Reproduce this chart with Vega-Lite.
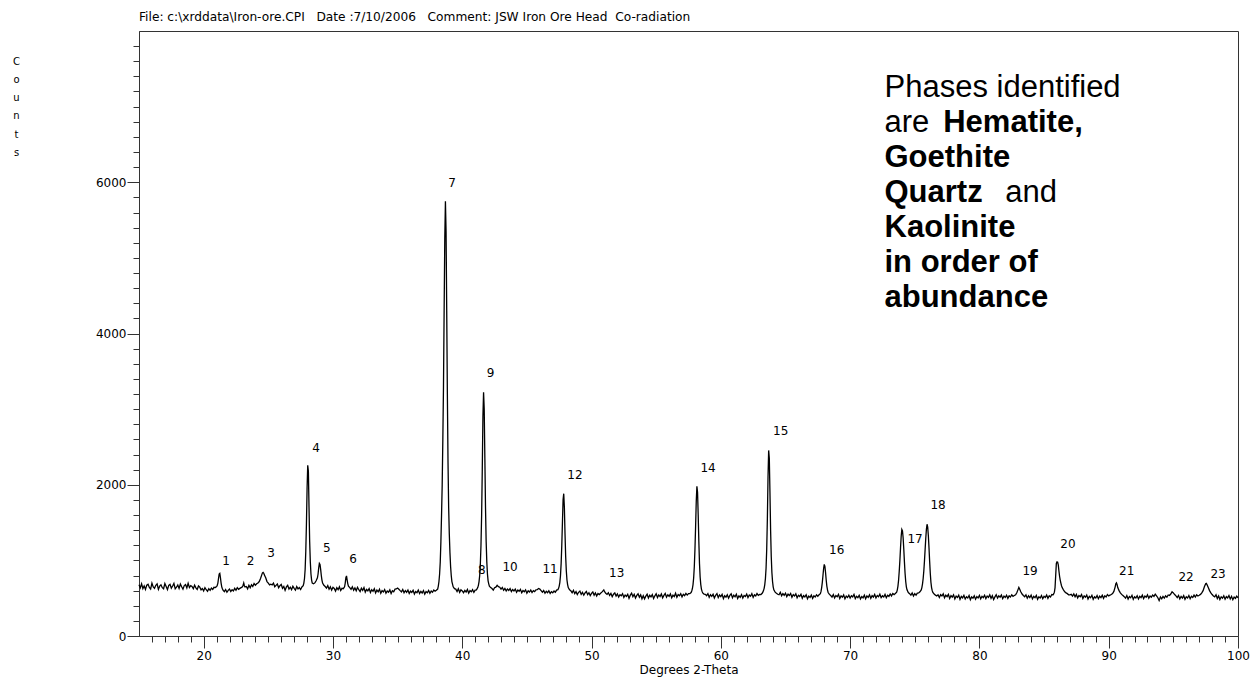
{
"$schema": "https://vega.github.io/schema/vega-lite/v6.json",
"width": 1099, "height": 605,
"autosize": {"type": "none"},
"padding": {"left": 139, "top": 31, "right": 15, "bottom": 43},
"background": "white",
"title": {"text": "File: c:\\xrddata\\Iron-ore.CPI\u00a0\u00a0\u00a0Date :7/10/2006\u00a0\u00a0\u00a0Comment: JSW Iron Ore Head\u00a0\u00a0Co-radiation", "anchor": "start", "frame": "group", "font": "DejaVu Sans", "fontSize": 12.2, "fontWeight": "normal", "color": "black", "offset": 8},
"config": {
  "view": {"stroke": "#333", "strokeWidth": 1},
  "axis": {"domainColor": "#333", "tickColor": "#333", "labelColor": "black", "titleColor": "black", "labelFont": "DejaVu Sans", "titleFont": "DejaVu Sans", "grid": false, "labelOverlap": false, "labelBound": false, "labelFlush": false, "titleFontWeight": "normal"}
},
"datasets": {
"xrd": [
{"t":15.0,"c":679},{"t":15.1,"c":637},{"t":15.2,"c":691},{"t":15.3,"c":627},{"t":15.4,"c":663},{"t":15.5,"c":615},{"t":15.6,"c":673},{"t":15.7,"c":685},{"t":15.8,"c":643},{"t":15.9,"c":621},
{"t":16.0,"c":699},{"t":16.1,"c":649},{"t":16.2,"c":631},{"t":16.3,"c":671},{"t":16.4,"c":689},{"t":16.5,"c":617},{"t":16.6,"c":659},{"t":16.7,"c":677},{"t":16.8,"c":639},{"t":16.9,"c":625},
{"t":17.0,"c":693},{"t":17.1,"c":653},{"t":17.2,"c":613},{"t":17.3,"c":669},{"t":17.4,"c":683},{"t":17.5,"c":633},{"t":17.6,"c":661},{"t":17.7,"c":695},{"t":17.8,"c":623},{"t":17.9,"c":645},
{"t":18.0,"c":675},{"t":18.1,"c":629},{"t":18.2,"c":687},{"t":18.3,"c":651},{"t":18.4,"c":619},{"t":18.5,"c":667},{"t":18.6,"c":681},{"t":18.7,"c":635},{"t":18.8,"c":697},{"t":18.9,"c":641},
{"t":19.0,"c":665},{"t":19.1,"c":654},{"t":19.2,"c":624},{"t":19.3,"c":672},{"t":19.4,"c":636},{"t":19.5,"c":616},{"t":19.6,"c":662},{"t":19.7,"c":646},{"t":19.8,"c":610},{"t":19.9,"c":628},
{"t":20.0,"c":596},{"t":20.1,"c":640},{"t":20.2,"c":612},{"t":20.3,"c":590},{"t":20.4,"c":626},{"t":20.5,"c":604},{"t":20.6,"c":634},{"t":20.7,"c":616},{"t":20.8,"c":644},{"t":20.9,"c":640},
{"t":21.0,"c":655},{"t":21.05,"c":668},{"t":21.1,"c":700},{"t":21.15,"c":760},{"t":21.2,"c":818},{"t":21.25,"c":827},{"t":21.3,"c":770},{"t":21.35,"c":700},{"t":21.4,"c":650},{"t":21.45,"c":625},{"t":21.5,"c":606},
{"t":21.6,"c":586},{"t":21.7,"c":614},{"t":21.8,"c":578},{"t":21.9,"c":604},{"t":22.0,"c":620},{"t":22.1,"c":588},{"t":22.2,"c":612},{"t":22.3,"c":596},{"t":22.4,"c":630},{"t":22.5,"c":606},{"t":22.6,"c":640},{"t":22.7,"c":618},{"t":22.8,"c":630},
{"t":22.9,"c":640},{"t":23.0,"c":650},{"t":23.05,"c":672},{"t":23.1,"c":700},{"t":23.15,"c":665},{"t":23.2,"c":648},{"t":23.3,"c":655},
{"t":23.4,"c":623},{"t":23.5,"c":671},{"t":23.6,"c":639},{"t":23.7,"c":677},{"t":23.8,"c":655},{"t":23.9,"c":693},{"t":24.0,"c":671},{"t":24.1,"c":690},{"t":24.2,"c":702},
{"t":24.3,"c":720},{"t":24.4,"c":760},{"t":24.5,"c":812},{"t":24.55,"c":835},{"t":24.6,"c":842},{"t":24.65,"c":830},{"t":24.7,"c":805},{"t":24.8,"c":770},{"t":24.9,"c":720},{"t":25.0,"c":700},{"t":25.1,"c":676},{"t":25.2,"c":684},
{"t":25.3,"c":675},{"t":25.4,"c":699},{"t":25.5,"c":651},{"t":25.6,"c":669},{"t":25.7,"c":687},{"t":25.8,"c":637},{"t":25.9,"c":665},{"t":26.0,"c":681},{"t":26.1,"c":631},{"t":26.2,"c":655},{"t":26.3,"c":603},{"t":26.4,"c":649},{"t":26.5,"c":671},{"t":26.6,"c":621},{"t":26.7,"c":645},{"t":26.8,"c":613},{"t":26.9,"c":659},{"t":27.0,"c":631},{"t":27.1,"c":607},{"t":27.2,"c":653},{"t":27.3,"c":623},{"t":27.4,"c":641},{"t":27.5,"c":615},{"t":27.6,"c":649},
{"t":27.7,"c":665},{"t":27.75,"c":700},{"t":27.8,"c":760},{"t":27.85,"c":880},{"t":27.9,"c":1120},{"t":27.95,"c":1480},{"t":28.0,"c":1950},{"t":28.05,"c":2256},{"t":28.1,"c":2180},{"t":28.15,"c":1700},{"t":28.2,"c":1250},{"t":28.25,"c":980},{"t":28.3,"c":820},{"t":28.35,"c":740},{"t":28.4,"c":700},{"t":28.5,"c":690},{"t":28.6,"c":702},{"t":28.7,"c":730},
{"t":28.8,"c":770},{"t":28.85,"c":820},{"t":28.9,"c":900},{"t":28.95,"c":959},{"t":29.0,"c":945},{"t":29.05,"c":880},{"t":29.1,"c":800},{"t":29.15,"c":740},{"t":29.2,"c":700},{"t":29.3,"c":670},{"t":29.4,"c":655},
{"t":29.5,"c":634},{"t":29.6,"c":666},{"t":29.7,"c":618},{"t":29.8,"c":650},{"t":29.9,"c":606},{"t":30.0,"c":644},{"t":30.1,"c":628},{"t":30.2,"c":594},{"t":30.3,"c":638},{"t":30.4,"c":612},{"t":30.5,"c":650},{"t":30.6,"c":602},{"t":30.7,"c":630},
{"t":30.8,"c":625},{"t":30.9,"c":650},{"t":30.95,"c":700},{"t":31.0,"c":770},{"t":31.05,"c":795},{"t":31.1,"c":740},{"t":31.15,"c":690},{"t":31.2,"c":660},{"t":31.3,"c":640},
{"t":31.4,"c":618},{"t":31.5,"c":650},{"t":31.6,"c":606},{"t":31.7,"c":636},{"t":31.8,"c":598},{"t":31.9,"c":644},{"t":32.0,"c":612},{"t":32.1,"c":588},{"t":32.2,"c":632},{"t":32.3,"c":604},{"t":32.4,"c":640},{"t":32.5,"c":580},{"t":32.6,"c":616},{"t":32.7,"c":596},{"t":32.8,"c":626},{"t":32.9,"c":576},
{"t":33.0,"c":612},{"t":33.1,"c":590},{"t":33.2,"c":624},{"t":33.3,"c":570},{"t":33.4,"c":608},{"t":33.5,"c":584},{"t":33.6,"c":618},{"t":33.7,"c":564},{"t":33.8,"c":600},{"t":33.9,"c":582},
{"t":34.0,"c":614},{"t":34.1,"c":566},{"t":34.2,"c":596},{"t":34.3,"c":580},{"t":34.4,"c":610},{"t":34.5,"c":562},{"t":34.6,"c":598},{"t":34.7,"c":586},{"t":34.8,"c":620},{"t":34.9,"c":622},
{"t":35.0,"c":634},{"t":35.1,"c":618},{"t":35.2,"c":600},{"t":35.3,"c":583},{"t":35.4,"c":615},{"t":35.5,"c":571},{"t":35.6,"c":601},{"t":35.7,"c":579},{"t":35.8,"c":609},{"t":35.9,"c":563},
{"t":36.0,"c":593},{"t":36.1,"c":577},{"t":36.2,"c":605},{"t":36.3,"c":555},{"t":36.4,"c":589},{"t":36.5,"c":573},{"t":36.6,"c":607},{"t":36.7,"c":561},{"t":36.8,"c":591},{"t":36.9,"c":569},
{"t":37.0,"c":601},{"t":37.1,"c":553},{"t":37.2,"c":587},{"t":37.3,"c":571},{"t":37.4,"c":603},{"t":37.5,"c":565},{"t":37.6,"c":595},{"t":37.7,"c":579},{"t":37.8,"c":609},{"t":37.9,"c":593},
{"t":38.0,"c":605},{"t":38.1,"c":620},{"t":38.15,"c":660},{"t":38.2,"c":720},{"t":38.25,"c":820},{"t":38.3,"c":980},{"t":38.35,"c":1250},{"t":38.4,"c":1600},{"t":38.45,"c":2000},{"t":38.5,"c":2600},{"t":38.55,"c":3300},{"t":38.6,"c":4300},{"t":38.65,"c":5250},{"t":38.7,"c":5750},{"t":38.75,"c":5350},{"t":38.8,"c":4300},{"t":38.85,"c":3200},{"t":38.9,"c":2300},{"t":38.95,"c":1700},{"t":39.0,"c":1350},{"t":39.05,"c":1100},{"t":39.1,"c":920},{"t":39.15,"c":800},{"t":39.2,"c":720},{"t":39.3,"c":650},{"t":39.4,"c":625},
{"t":39.5,"c":620},{"t":39.6,"c":588},{"t":39.7,"c":626},{"t":39.8,"c":578},{"t":39.9,"c":610},{"t":40.0,"c":596},{"t":40.1,"c":572},{"t":40.2,"c":604},{"t":40.3,"c":582},{"t":40.4,"c":616},{"t":40.5,"c":566},{"t":40.6,"c":600},{"t":40.7,"c":584},{"t":40.8,"c":612},{"t":40.9,"c":576},{"t":41.0,"c":606},{"t":41.1,"c":610},{"t":41.2,"c":640},
{"t":41.25,"c":670},{"t":41.3,"c":720},{"t":41.35,"c":800},{"t":41.4,"c":950},{"t":41.45,"c":1200},{"t":41.5,"c":1600},{"t":41.55,"c":2200},{"t":41.6,"c":2900},{"t":41.65,"c":3223},{"t":41.7,"c":3000},{"t":41.75,"c":2350},{"t":41.8,"c":1700},{"t":41.85,"c":1250},{"t":41.9,"c":980},{"t":41.95,"c":820},{"t":42.0,"c":730},{"t":42.05,"c":690},{"t":42.1,"c":660},{"t":42.2,"c":640},
{"t":42.3,"c":628},{"t":42.4,"c":606},{"t":42.5,"c":638},{"t":42.6,"c":645},{"t":42.7,"c":670},{"t":42.8,"c":652},{"t":42.9,"c":645},{"t":43.0,"c":620},{"t":43.1,"c":642},{"t":43.2,"c":605},{"t":43.3,"c":628},{"t":43.4,"c":596},{"t":43.5,"c":622},
{"t":43.6,"c":603},{"t":43.7,"c":627},{"t":43.8,"c":587},{"t":43.9,"c":615},{"t":44.0,"c":595},{"t":44.1,"c":621},{"t":44.2,"c":579},{"t":44.3,"c":607},{"t":44.4,"c":591},{"t":44.5,"c":617},{"t":44.6,"c":573},{"t":44.7,"c":601},{"t":44.8,"c":585},{"t":44.9,"c":611},
{"t":45.0,"c":567},{"t":45.1,"c":597},{"t":45.2,"c":581},{"t":45.3,"c":607},{"t":45.4,"c":575},{"t":45.5,"c":599},{"t":45.6,"c":587},{"t":45.7,"c":611},{"t":45.8,"c":612},{"t":45.9,"c":628},
{"t":46.0,"c":620},{"t":46.1,"c":600},{"t":46.2,"c":579},{"t":46.3,"c":601},{"t":46.4,"c":565},{"t":46.5,"c":591},{"t":46.6,"c":573},{"t":46.7,"c":599},{"t":46.8,"c":563},{"t":46.9,"c":587},
{"t":47.0,"c":571},{"t":47.1,"c":595},{"t":47.2,"c":579},{"t":47.3,"c":607},{"t":47.4,"c":612},{"t":47.45,"c":630},{"t":47.5,"c":660},{"t":47.55,"c":710},{"t":47.6,"c":800},{"t":47.65,"c":960},{"t":47.7,"c":1200},{"t":47.75,"c":1500},{"t":47.8,"c":1800},{"t":47.85,"c":1882},{"t":47.9,"c":1700},{"t":47.95,"c":1350},{"t":48.0,"c":1050},{"t":48.05,"c":860},{"t":48.1,"c":740},{"t":48.15,"c":680},{"t":48.2,"c":640},{"t":48.3,"c":610},{"t":48.4,"c":598},
{"t":48.5,"c":572},{"t":48.6,"c":604},{"t":48.7,"c":560},{"t":48.8,"c":586},{"t":48.9,"c":548},{"t":49.0,"c":578},{"t":49.1,"c":594},{"t":49.2,"c":550},{"t":49.3,"c":576},{"t":49.4,"c":540},{"t":49.5,"c":570},{"t":49.6,"c":588},{"t":49.7,"c":546},{"t":49.8,"c":572},{"t":49.9,"c":534},
{"t":50.0,"c":564},{"t":50.1,"c":582},{"t":50.2,"c":540},{"t":50.3,"c":570},{"t":50.4,"c":530},{"t":50.5,"c":562},{"t":50.6,"c":548},{"t":50.7,"c":566},{"t":50.8,"c":580},{"t":50.9,"c":600},{"t":50.95,"c":610},{"t":51.0,"c":590},{"t":51.1,"c":565},{"t":51.2,"c":550},{"t":51.3,"c":572},{"t":51.4,"c":536},{"t":51.5,"c":562},{"t":51.6,"c":520},{"t":51.7,"c":552},{"t":51.8,"c":570},{"t":51.9,"c":528},
{"t":52.0,"c":556},{"t":52.1,"c":516},{"t":52.2,"c":546},{"t":52.3,"c":532},{"t":52.4,"c":560},{"t":52.5,"c":510},{"t":52.6,"c":542},{"t":52.7,"c":524},{"t":52.8,"c":552},{"t":52.9,"c":498},
{"t":53.0,"c":540},{"t":53.1,"c":566},{"t":53.2,"c":520},{"t":53.3,"c":552},{"t":53.4,"c":502},{"t":53.5,"c":536},{"t":53.6,"c":558},{"t":53.7,"c":514},{"t":53.8,"c":544},{"t":53.9,"c":492},
{"t":54.0,"c":532},{"t":54.1,"c":491},{"t":54.2,"c":527},{"t":54.3,"c":553},{"t":54.4,"c":503},{"t":54.5,"c":539},{"t":54.6,"c":517},{"t":54.7,"c":547},{"t":54.8,"c":495},{"t":54.9,"c":531},
{"t":55.0,"c":559},{"t":55.1,"c":509},{"t":55.2,"c":543},{"t":55.3,"c":521},{"t":55.4,"c":555},{"t":55.5,"c":505},{"t":55.6,"c":537},{"t":55.7,"c":563},{"t":55.8,"c":513},{"t":55.9,"c":545},
{"t":56.0,"c":525},{"t":56.1,"c":557},{"t":56.2,"c":505},{"t":56.3,"c":539},{"t":56.4,"c":521},{"t":56.5,"c":565},{"t":56.6,"c":513},{"t":56.7,"c":547},{"t":56.8,"c":531},{"t":56.9,"c":559},
{"t":57.0,"c":517},{"t":57.1,"c":551},{"t":57.2,"c":533},{"t":57.3,"c":563},{"t":57.4,"c":541},{"t":57.5,"c":560},{"t":57.6,"c":560},{"t":57.7,"c":575},{"t":57.75,"c":595},{"t":57.8,"c":625},{"t":57.85,"c":680},{"t":57.9,"c":770},{"t":57.95,"c":920},{"t":58.0,"c":1150},{"t":58.05,"c":1450},{"t":58.1,"c":1780},{"t":58.15,"c":1979},{"t":58.2,"c":1900},{"t":58.25,"c":1600},{"t":58.3,"c":1250},{"t":58.35,"c":960},{"t":58.4,"c":780},{"t":58.45,"c":680},{"t":58.5,"c":620},{"t":58.55,"c":590},{"t":58.6,"c":570},{"t":58.7,"c":555},
{"t":58.8,"c":552},{"t":58.9,"c":534},{"t":59.0,"c":560},{"t":59.1,"c":512},{"t":59.2,"c":546},{"t":59.3,"c":524},{"t":59.4,"c":552},{"t":59.5,"c":502},{"t":59.6,"c":538},{"t":59.7,"c":560},{"t":59.8,"c":508},{"t":59.9,"c":542},
{"t":60.0,"c":520},{"t":60.1,"c":550},{"t":60.2,"c":494},{"t":60.3,"c":532},{"t":60.4,"c":514},{"t":60.5,"c":546},{"t":60.6,"c":500},{"t":60.7,"c":536},{"t":60.8,"c":558},{"t":60.9,"c":506},
{"t":61.0,"c":540},{"t":61.1,"c":518},{"t":61.2,"c":552},{"t":61.3,"c":496},{"t":61.4,"c":530},{"t":61.5,"c":512},{"t":61.6,"c":548},{"t":61.7,"c":502},{"t":61.8,"c":536},{"t":61.9,"c":522},
{"t":62.0,"c":554},{"t":62.1,"c":508},{"t":62.2,"c":542},{"t":62.3,"c":526},{"t":62.4,"c":560},{"t":62.5,"c":510},{"t":62.6,"c":544},{"t":62.7,"c":530},{"t":62.8,"c":562},{"t":62.9,"c":538},
{"t":63.0,"c":550},{"t":63.1,"c":548},{"t":63.2,"c":565},{"t":63.25,"c":580},{"t":63.3,"c":600},{"t":63.35,"c":630},{"t":63.4,"c":680},{"t":63.45,"c":760},{"t":63.5,"c":900},{"t":63.55,"c":1150},{"t":63.6,"c":1550},{"t":63.65,"c":2100},{"t":63.7,"c":2454},{"t":63.75,"c":2350},{"t":63.8,"c":1900},{"t":63.85,"c":1400},{"t":63.9,"c":1050},{"t":63.95,"c":840},{"t":64.0,"c":720},{"t":64.05,"c":650},{"t":64.1,"c":610},{"t":64.2,"c":580},{"t":64.3,"c":565},
{"t":64.4,"c":552},{"t":64.5,"c":545},{"t":64.6,"c":577},{"t":64.7,"c":531},{"t":64.8,"c":561},{"t":64.9,"c":539},{"t":65.0,"c":567},{"t":65.1,"c":521},{"t":65.2,"c":553},{"t":65.3,"c":535},{"t":65.4,"c":563},{"t":65.5,"c":513},{"t":65.6,"c":547},{"t":65.7,"c":529},{"t":65.8,"c":557},{"t":65.9,"c":505},
{"t":66.0,"c":539},{"t":66.1,"c":523},{"t":66.2,"c":551},{"t":66.3,"c":499},{"t":66.4,"c":533},{"t":66.5,"c":517},{"t":66.6,"c":545},{"t":66.7,"c":493},{"t":66.8,"c":527},{"t":66.9,"c":511},
{"t":67.0,"c":541},{"t":67.1,"c":497},{"t":67.2,"c":531},{"t":67.3,"c":515},{"t":67.4,"c":545},{"t":67.5,"c":525},{"t":67.6,"c":545},{"t":67.7,"c":560},{"t":67.75,"c":590},{"t":67.8,"c":640},{"t":67.85,"c":710},{"t":67.9,"c":800},{"t":67.95,"c":890},{"t":68.0,"c":946},{"t":68.05,"c":920},{"t":68.1,"c":840},{"t":68.15,"c":740},{"t":68.2,"c":660},{"t":68.25,"c":610},{"t":68.3,"c":575},{"t":68.4,"c":550},{"t":68.5,"c":535},
{"t":68.6,"c":515},{"t":68.7,"c":547},{"t":68.8,"c":503},{"t":68.9,"c":535},{"t":69.0,"c":519},{"t":69.1,"c":551},{"t":69.2,"c":497},{"t":69.3,"c":531},{"t":69.4,"c":513},{"t":69.5,"c":543},{"t":69.6,"c":491},{"t":69.7,"c":527},{"t":69.8,"c":509},{"t":69.9,"c":539},
{"t":70.0,"c":501},{"t":70.1,"c":533},{"t":70.2,"c":517},{"t":70.3,"c":549},{"t":70.4,"c":495},{"t":70.5,"c":525},{"t":70.6,"c":507},{"t":70.7,"c":537},{"t":70.8,"c":489},{"t":70.9,"c":521},
{"t":71.0,"c":505},{"t":71.1,"c":539},{"t":71.2,"c":493},{"t":71.3,"c":529},{"t":71.4,"c":511},{"t":71.5,"c":545},{"t":71.6,"c":499},{"t":71.7,"c":533},{"t":71.8,"c":515},{"t":71.9,"c":549},
{"t":72.0,"c":503},{"t":72.1,"c":535},{"t":72.2,"c":519},{"t":72.3,"c":553},{"t":72.4,"c":507},{"t":72.5,"c":532},{"t":72.6,"c":516},{"t":72.7,"c":550},{"t":72.8,"c":506},{"t":72.9,"c":538},
{"t":73.0,"c":524},{"t":73.1,"c":556},{"t":73.2,"c":530},{"t":73.3,"c":562},{"t":73.4,"c":548},{"t":73.5,"c":562},{"t":73.6,"c":580},{"t":73.65,"c":610},{"t":73.7,"c":660},{"t":73.75,"c":740},{"t":73.8,"c":860},{"t":73.85,"c":1000},{"t":73.9,"c":1170},{"t":73.95,"c":1320},{"t":74.0,"c":1408},{"t":74.05,"c":1390},{"t":74.1,"c":1300},{"t":74.15,"c":1150},{"t":74.2,"c":980},{"t":74.25,"c":830},{"t":74.3,"c":720},{"t":74.35,"c":650},{"t":74.4,"c":610},{"t":74.5,"c":575},{"t":74.6,"c":560},
{"t":74.7,"c":540},{"t":74.8,"c":570},{"t":74.9,"c":530},{"t":75.0,"c":560},{"t":75.1,"c":540},{"t":75.2,"c":566},{"t":75.3,"c":570},{"t":75.4,"c":585},{"t":75.5,"c":610},
{"t":75.55,"c":640},{"t":75.6,"c":690},{"t":75.65,"c":760},{"t":75.7,"c":860},{"t":75.75,"c":990},{"t":75.8,"c":1140},{"t":75.85,"c":1290},{"t":75.9,"c":1410},{"t":75.95,"c":1478},{"t":76.0,"c":1440},{"t":76.05,"c":1330},{"t":76.1,"c":1170},{"t":76.15,"c":990},{"t":76.2,"c":830},{"t":76.25,"c":710},{"t":76.3,"c":640},{"t":76.35,"c":600},{"t":76.4,"c":575},{"t":76.5,"c":555},
{"t":76.6,"c":540},{"t":76.7,"c":530},{"t":76.8,"c":545},{"t":76.9,"c":510},{"t":77.0,"c":547},{"t":77.1,"c":529},{"t":77.2,"c":557},{"t":77.3,"c":505},{"t":77.4,"c":539},{"t":77.5,"c":521},{"t":77.6,"c":551},{"t":77.7,"c":497},{"t":77.8,"c":533},{"t":77.9,"c":515},
{"t":78.0,"c":545},{"t":78.1,"c":491},{"t":78.2,"c":527},{"t":78.3,"c":509},{"t":78.4,"c":541},{"t":78.5,"c":485},{"t":78.6,"c":523},{"t":78.7,"c":505},{"t":78.8,"c":537},{"t":78.9,"c":489},
{"t":79.0,"c":519},{"t":79.1,"c":503},{"t":79.2,"c":535},{"t":79.3,"c":481},{"t":79.4,"c":517},{"t":79.5,"c":499},{"t":79.6,"c":531},{"t":79.7,"c":487},{"t":79.8,"c":521},{"t":79.9,"c":503},
{"t":80.0,"c":537},{"t":80.1,"c":491},{"t":80.2,"c":525},{"t":80.3,"c":507},{"t":80.4,"c":539},{"t":80.5,"c":495},{"t":80.6,"c":529},{"t":80.7,"c":511},{"t":80.8,"c":545},{"t":80.9,"c":499},
{"t":81.0,"c":533},{"t":81.1,"c":481},{"t":81.2,"c":517},{"t":81.3,"c":545},{"t":81.4,"c":501},{"t":81.5,"c":531},{"t":81.6,"c":513},{"t":81.7,"c":541},{"t":81.8,"c":493},{"t":81.9,"c":527},
{"t":82.0,"c":509},{"t":82.1,"c":539},{"t":82.2,"c":497},{"t":82.3,"c":531},{"t":82.4,"c":515},{"t":82.5,"c":545},{"t":82.6,"c":525},{"t":82.7,"c":535},{"t":82.8,"c":545},{"t":82.9,"c":575},{"t":83.0,"c":620},{"t":83.05,"c":642},{"t":83.1,"c":625},{"t":83.2,"c":585},{"t":83.3,"c":555},{"t":83.4,"c":535},
{"t":83.5,"c":520},{"t":83.6,"c":544},{"t":83.7,"c":500},{"t":83.8,"c":532},{"t":83.9,"c":508},{"t":84.0,"c":540},{"t":84.1,"c":490},{"t":84.2,"c":524},{"t":84.3,"c":506},{"t":84.4,"c":536},{"t":84.5,"c":484},{"t":84.6,"c":518},{"t":84.7,"c":502},{"t":84.8,"c":534},{"t":84.9,"c":492},
{"t":85.0,"c":526},{"t":85.1,"c":510},{"t":85.2,"c":542},{"t":85.3,"c":498},{"t":85.4,"c":532},{"t":85.5,"c":516},{"t":85.6,"c":548},{"t":85.7,"c":545},{"t":85.75,"c":560},{"t":85.8,"c":580},{"t":85.85,"c":640},{"t":85.9,"c":800},{"t":85.95,"c":960},{"t":86.0,"c":980},{"t":86.05,"c":975},{"t":86.1,"c":940},{"t":86.15,"c":860},{"t":86.2,"c":790},{"t":86.25,"c":740},{"t":86.3,"c":700},{"t":86.35,"c":665},{"t":86.4,"c":640},{"t":86.5,"c":610},{"t":86.6,"c":585},{"t":86.7,"c":570},{"t":86.8,"c":560},
{"t":86.9,"c":545},{"t":87.0,"c":544},{"t":87.1,"c":552},{"t":87.2,"c":528},{"t":87.3,"c":556},{"t":87.4,"c":518},{"t":87.5,"c":550},{"t":87.6,"c":504},{"t":87.7,"c":536},{"t":87.8,"c":520},{"t":87.9,"c":548},
{"t":88.0,"c":496},{"t":88.1,"c":530},{"t":88.2,"c":512},{"t":88.3,"c":542},{"t":88.4,"c":490},{"t":88.5,"c":524},{"t":88.6,"c":506},{"t":88.7,"c":538},{"t":88.8,"c":486},{"t":88.9,"c":518},
{"t":89.0,"c":502},{"t":89.1,"c":534},{"t":89.2,"c":492},{"t":89.3,"c":526},{"t":89.4,"c":508},{"t":89.5,"c":540},{"t":89.6,"c":498},{"t":89.7,"c":532},{"t":89.8,"c":516},{"t":89.9,"c":548},
{"t":90.0,"c":530},{"t":90.1,"c":540},{"t":90.2,"c":548},{"t":90.3,"c":560},{"t":90.4,"c":590},{"t":90.5,"c":650},{"t":90.55,"c":690},{"t":90.6,"c":703},{"t":90.65,"c":680},{"t":90.7,"c":640},{"t":90.8,"c":600},{"t":90.9,"c":570},{"t":91.0,"c":550},{"t":91.1,"c":535},
{"t":91.2,"c":520},{"t":91.3,"c":500},{"t":91.4,"c":534},{"t":91.5,"c":488},{"t":91.6,"c":522},{"t":91.7,"c":506},{"t":91.8,"c":538},{"t":91.9,"c":484},
{"t":92.0,"c":518},{"t":92.1,"c":502},{"t":92.2,"c":532},{"t":92.3,"c":490},{"t":92.4,"c":524},{"t":92.5,"c":508},{"t":92.6,"c":540},{"t":92.7,"c":494},{"t":92.8,"c":528},{"t":92.9,"c":512},
{"t":93.0,"c":544},{"t":93.1,"c":500},{"t":93.2,"c":530},{"t":93.3,"c":514},{"t":93.4,"c":542},{"t":93.5,"c":524},{"t":93.6,"c":552},{"t":93.7,"c":530},{"t":93.8,"c":506},{"t":93.9,"c":468},
{"t":94.0,"c":516},{"t":94.1,"c":492},{"t":94.2,"c":524},{"t":94.3,"c":502},{"t":94.4,"c":530},{"t":94.5,"c":512},{"t":94.6,"c":542},{"t":94.7,"c":535},{"t":94.8,"c":555},{"t":94.9,"c":585},{"t":95.0,"c":570},{"t":95.1,"c":548},{"t":95.2,"c":530},
{"t":95.3,"c":509},{"t":95.4,"c":537},{"t":95.5,"c":491},{"t":95.6,"c":523},{"t":95.7,"c":501},{"t":95.8,"c":533},{"t":95.9,"c":485},
{"t":96.0,"c":519},{"t":96.1,"c":503},{"t":96.2,"c":535},{"t":96.3,"c":493},{"t":96.4,"c":525},{"t":96.5,"c":509},{"t":96.6,"c":541},{"t":96.7,"c":515},{"t":96.8,"c":545},{"t":96.9,"c":529},
{"t":97.0,"c":538},{"t":97.1,"c":550},{"t":97.2,"c":570},{"t":97.3,"c":600},{"t":97.4,"c":650},{"t":97.5,"c":690},{"t":97.55,"c":695},{"t":97.6,"c":680},{"t":97.7,"c":640},{"t":97.8,"c":600},{"t":97.9,"c":570},
{"t":98.0,"c":548},{"t":98.1,"c":530},{"t":98.2,"c":518},{"t":98.3,"c":546},{"t":98.4,"c":496},{"t":98.5,"c":530},{"t":98.6,"c":482},{"t":98.7,"c":518},{"t":98.8,"c":500},{"t":98.9,"c":532},
{"t":99.0,"c":486},{"t":99.1,"c":520},{"t":99.2,"c":504},{"t":99.3,"c":536},{"t":99.4,"c":490},{"t":99.5,"c":524},{"t":99.6,"c":480},{"t":99.7,"c":514},{"t":99.8,"c":498},{"t":99.9,"c":528},{"t":100.0,"c":506}
],
"peaks": [
{"n":"1","t":21.73,"c":992},{"n":"2","t":23.62,"c":992},{"n":"3","t":25.21,"c":1091},{"n":"4","t":28.69,"c":2486},{"n":"5","t":29.52,"c":1170},{"n":"6","t":31.55,"c":1018},
{"n":"7","t":39.21,"c":5994},{"n":"8","t":41.51,"c":873},{"n":"9","t":42.2,"c":3474},{"n":"10","t":43.7,"c":912},{"n":"11","t":46.79,"c":886},{"n":"12","t":48.72,"c":2129},
{"n":"13","t":51.95,"c":833},{"n":"14","t":59.01,"c":2221},{"n":"15","t":64.63,"c":2711},{"n":"16","t":68.96,"c":1137},{"n":"17","t":75.02,"c":1283},{"n":"18","t":76.8,"c":1732},
{"n":"19","t":83.92,"c":860},{"n":"20","t":86.85,"c":1217},{"n":"21","t":91.39,"c":860},{"n":"22","t":95.98,"c":780},{"n":"23","t":98.46,"c":820}
],
"notes": [
{"s":"Phases identified","t":72.66,"c":7131,"role":"text"},
{"s":"are","t":72.66,"c":6668,"role":"text"},
{"s":"Hematite,","t":77.2,"c":6668,"role":"phase"},
{"s":"Goethite","t":72.66,"c":6206,"role":"phase"},
{"s":"Quartz","t":72.66,"c":5743,"role":"phase"},
{"s":"and","t":82.0,"c":5743,"role":"text"},
{"s":"Kaolinite","t":72.66,"c":5280,"role":"phase"},
{"s":"in order of","t":72.66,"c":4817,"role":"phase"},
{"s":"abundance","t":72.66,"c":4354,"role":"phase"}
]
},
"encoding": {
  "x": {"field": "t", "type": "quantitative",
        "scale": {"domain": [15, 100], "nice": false, "zero": false},
        "axis": {"title": "Degrees 2-Theta", "titleFontSize": 12, "titlePadding": 3,
                 "values": [16,17,18,19,20,21,22,23,24,25,26,27,28,29,30,31,32,33,34,35,36,37,38,39,40,41,42,43,44,45,46,47,48,49,50,51,52,53,54,55,56,57,58,59,60,61,62,63,64,65,66,67,68,69,70,71,72,73,74,75,76,77,78,79,80,81,82,83,84,85,86,87,88,89,90,91,92,93,94,95,96,97,98,99,100],
                 "labelExpr": "datum.value % 10 === 0 ? datum.label : ''",
                 "tickSize": {"condition": {"test": "datum.value % 10 === 0", "value": 12}, "value": 6},
                 "labelFontSize": 12, "labelPadding": 2}},
  "y": {"field": "c", "type": "quantitative",
        "scale": {"domain": [0, 8000], "nice": false},
        "axis": {"title": ["C","o","u","n","t","s"], "titleAngle": 0, "titleX": -123, "titleY": 25, "titleAlign": "center", "titleBaseline": "top", "titleFontSize": 10, "titleLineHeight": 18.3,
                 "values": [0,200,400,600,800,1000,1200,1400,1600,1800,2000,2200,2400,2600,2800,3000,3200,3400,3600,3800,4000,4200,4400,4600,4800,5000,5200,5400,5600,5800,6000,6200,6400,6600,6800,7000,7200,7400,7600,7800],
                 "labelExpr": "datum.value % 2000 === 0 ? datum.label : ''",
                 "format": "d",
                 "tickSize": {"condition": {"test": "datum.value % 2000 === 0", "value": 12}, "value": 6},
                 "labelFontSize": 12, "labelPadding": 1}}
},
"layer": [
  {"data": {"name": "xrd"}, "mark": {"type": "line", "color": "black", "strokeWidth": 1.3, "interpolate": "linear"}},
  {"data": {"name": "peaks"}, "mark": {"type": "text", "font": "DejaVu Sans", "fontSize": 12, "align": "center", "baseline": "middle", "color": "black"}, "encoding": {"text": {"field": "n"}}},
  {"data": {"name": "notes"}, "transform": [{"filter": "datum.role === 'text'"}], "mark": {"type": "text", "font": "Liberation Sans", "fontSize": 31, "align": "left", "baseline": "alphabetic", "color": "black"}, "encoding": {"text": {"field": "s"}}},
  {"data": {"name": "notes"}, "transform": [{"filter": "datum.role === 'phase'"}], "mark": {"type": "text", "font": "Liberation Sans", "fontSize": 31, "fontWeight": "bold", "align": "left", "baseline": "alphabetic", "color": "black"}, "encoding": {"text": {"field": "s"}}}
]
}
